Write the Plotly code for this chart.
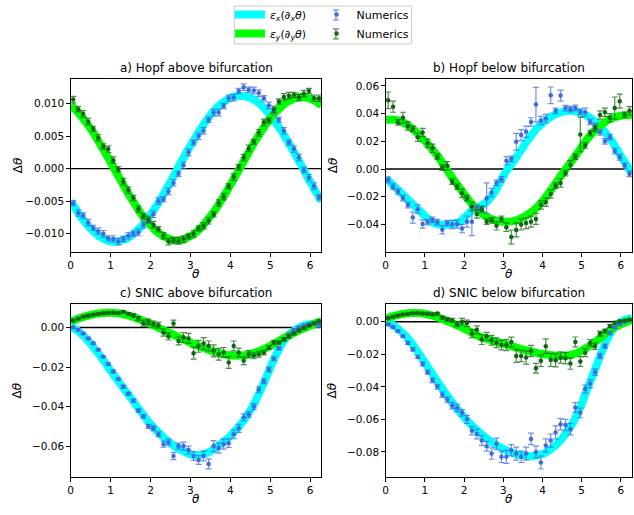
import plotly.graph_objects as go

# theta grid of the smooth theory curves (0 .. 2*pi)
theta_curve = [0.000, 0.128, 0.256, 0.385, 0.513, 0.641, 0.769, 0.898, 1.026, 1.154,
               1.282, 1.411, 1.539, 1.667, 1.795, 1.924, 2.052, 2.180, 2.308, 2.436,
               2.565, 2.693, 2.821, 2.949, 3.078, 3.206, 3.334, 3.462, 3.591, 3.719,
               3.847, 3.975, 4.103, 4.232, 4.360, 4.488, 4.616, 4.745, 4.873, 5.001,
               5.129, 5.258, 5.386, 5.514, 5.642, 5.771, 5.899, 6.027, 6.155, 6.283]
# theta grid of the numerical points (bin centres)
theta_num = [0.063, 0.188, 0.314, 0.440, 0.565, 0.691, 0.817, 0.942, 1.068, 1.194,
             1.319, 1.445, 1.571, 1.696, 1.822, 1.948, 2.073, 2.199, 2.325, 2.450,
             2.576, 2.702, 2.827, 2.953, 3.079, 3.204, 3.330, 3.456, 3.581, 3.707,
             3.833, 3.958, 4.084, 4.210, 4.335, 4.461, 4.587, 4.712, 4.838, 4.964,
             5.089, 5.215, 5.341, 5.466, 5.592, 5.718, 5.843, 5.969, 6.095, 6.220]

# ---- a) Hopf above bifurcation
a_theory_x = [-0.0050,-0.0062,-0.0074,-0.0084,-0.0093,-0.0100,-0.0106,-0.0110,-0.0112,-0.0112,-0.0110,-0.0107,-0.0102,-0.0095,-0.0087,-0.0077,-0.0066,-0.0054,-0.0041,-0.0027,-0.0013,0.0002,0.0016,0.0030,0.0043,0.0056,0.0068,0.0079,0.0089,0.0097,0.0103,0.0108,0.0111,0.0112,0.0111,0.0109,0.0105,0.0099,0.0091,0.0082,0.0071,0.0060,0.0047,0.0034,0.0020,0.0006,-0.0009,-0.0023,-0.0037,-0.0050]
a_theory_y = [0.0097,0.0090,0.0081,0.0071,0.0060,0.0048,0.0034,0.0021,0.0007,-0.0007,-0.0021,-0.0035,-0.0048,-0.0060,-0.0072,-0.0082,-0.0090,-0.0098,-0.0103,-0.0107,-0.0110,-0.0110,-0.0109,-0.0105,-0.0101,-0.0094,-0.0086,-0.0076,-0.0066,-0.0054,-0.0041,-0.0028,-0.0014,0.0000,0.0014,0.0028,0.0042,0.0054,0.0066,0.0077,0.0086,0.0094,0.0101,0.0105,0.0109,0.0110,0.0109,0.0107,0.0103,0.0097]
a_num_x = [-0.0053,-0.0068,-0.0072,-0.0083,-0.0091,-0.0096,-0.0100,-0.0107,-0.0108,-0.0112,-0.0108,-0.0103,-0.0100,-0.0098,-0.0086,-0.0080,-0.0070,-0.0050,-0.0047,-0.0035,-0.0022,-0.0008,0.0005,0.0025,0.0040,0.0050,0.0058,0.0075,0.0086,0.0086,0.0096,0.0108,0.0109,0.0119,0.0125,0.0121,0.0120,0.0116,0.0108,0.0097,0.0088,0.0075,0.0058,0.0040,0.0030,0.0017,-0.0002,-0.0014,-0.0027,-0.0044]
a_err_x = [0.0004,0.0005,0.0004,0.0005,0.0004,0.0005,0.0005,0.0004,0.0005,0.0005,0.0004,0.0005,0.0004,0.0005,0.0005,0.0004,0.0005,0.0005,0.0004,0.0005,0.0005,0.0004,0.0005,0.0005,0.0004,0.0005,0.0005,0.0004,0.0005,0.0005,0.0004,0.0005,0.0005,0.0004,0.0005,0.0004,0.0005,0.0005,0.0004,0.0005,0.0005,0.0004,0.0005,0.0004,0.0005,0.0005,0.0004,0.0005,0.0005,0.0004]
a_num_y = [0.0106,0.0091,0.0084,0.0072,0.0061,0.0047,0.0034,0.0030,0.0013,-0.0001,-0.0020,-0.0033,-0.0045,-0.0062,-0.0073,-0.0078,-0.0086,-0.0093,-0.0103,-0.0112,-0.0110,-0.0111,-0.0108,-0.0104,-0.0100,-0.0092,-0.0088,-0.0080,-0.0070,-0.0053,-0.0043,-0.0027,-0.0013,0.0002,0.0017,0.0031,0.0041,0.0055,0.0071,0.0074,0.0091,0.0103,0.0110,0.0112,0.0113,0.0109,0.0115,0.0119,0.0108,0.0108]
a_err_y = [0.0005,0.0004,0.0005,0.0005,0.0004,0.0005,0.0004,0.0005,0.0005,0.0004,0.0005,0.0005,0.0004,0.0005,0.0004,0.0005,0.0005,0.0004,0.0005,0.0005,0.0004,0.0005,0.0005,0.0004,0.0005,0.0004,0.0005,0.0005,0.0004,0.0005,0.0005,0.0004,0.0005,0.0004,0.0005,0.0005,0.0004,0.0005,0.0005,0.0004,0.0005,0.0004,0.0005,0.0005,0.0004,0.0005,0.0005,0.0004,0.0005,0.0005]

# ---- b) Hopf below bifurcation
b_theory_x = [-0.0067,-0.0100,-0.0135,-0.0170,-0.0205,-0.0240,-0.0275,-0.0310,-0.0345,-0.0375,-0.0395,-0.0402,-0.0402,-0.0398,-0.0392,-0.0375,-0.0340,-0.0305,-0.0285,-0.0265,-0.0240,-0.0200,-0.0145,-0.0080,-0.0015,0.0035,0.0085,0.0140,0.0195,0.0245,0.0290,0.0325,0.0355,0.0380,0.0398,0.0410,0.0418,0.0420,0.0414,0.0402,0.0385,0.0360,0.0330,0.0295,0.0250,0.0200,0.0140,0.0080,0.0025,-0.0030]
b_theory_y = [0.0350,0.0358,0.0355,0.0345,0.0325,0.0300,0.0270,0.0230,0.0195,0.0155,0.0110,0.0060,0.0005,-0.0050,-0.0100,-0.0150,-0.0200,-0.0245,-0.0285,-0.0318,-0.0342,-0.0360,-0.0372,-0.0378,-0.0380,-0.0378,-0.0370,-0.0355,-0.0335,-0.0310,-0.0278,-0.0240,-0.0195,-0.0145,-0.0092,-0.0040,0.0008,0.0058,0.0108,0.0160,0.0212,0.0255,0.0290,0.0322,0.0348,0.0366,0.0378,0.0386,0.0390,0.0392]
b_num_x = [-0.0079,-0.0127,-0.0163,-0.0210,-0.0260,-0.0350,-0.0290,-0.0397,-0.0383,-0.0367,-0.0383,-0.0438,-0.0390,-0.0400,-0.0397,-0.0430,-0.0380,-0.0380,-0.0280,-0.0290,-0.0210,-0.0170,-0.0100,-0.0075,0.0060,0.0074,0.0197,0.0245,0.0269,0.0340,0.0465,0.0350,0.0364,0.0532,0.0420,0.0530,0.0440,0.0432,0.0441,0.0412,0.0410,0.0340,0.0310,0.0265,0.0200,0.0230,0.0130,0.0085,0.0025,-0.0035]
b_err_x = [0.002,0.002,0.002,0.002,0.002,0.004,0.003,0.003,0.002,0.002,0.002,0.003,0.002,0.003,0.003,0.003,0.004,0.010,0.002,0.002,0.011,0.003,0.002,0.002,0.003,0.002,0.006,0.004,0.004,0.003,0.0125,0.003,0.003,0.006,0.002,0.004,0.002,0.002,0.002,0.002,0.003,0.002,0.002,0.002,0.002,0.002,0.002,0.002,0.002,0.002]
b_num_y = [0.0496,0.045,0.0336,0.037,0.031,0.029,0.023,0.0264,0.0186,0.015,0.0089,0.001,0.0024,-0.0091,-0.0127,-0.0175,-0.021,-0.027,-0.0325,-0.029,-0.038,-0.037,-0.041,-0.036,-0.042,-0.049,-0.044,-0.040,-0.039,-0.038,-0.036,-0.026,-0.024,-0.018,-0.012,-0.010,-0.003,0.003,0.009,0.025,0.017,0.026,0.029,0.039,0.041,0.037,0.044,0.049,0.039,0.042]
b_err_y = [0.006,0.004,0.002,0.004,0.003,0.002,0.003,0.003,0.003,0.003,0.002,0.002,0.003,0.002,0.002,0.003,0.002,0.003,0.003,0.002,0.002,0.002,0.003,0.002,0.003,0.005,0.005,0.004,0.004,0.004,0.004,0.003,0.003,0.003,0.002,0.003,0.002,0.003,0.002,0.0125,0.002,0.002,0.002,0.003,0.003,0.003,0.008,0.005,0.002,0.003]

# ---- c) SNIC above bifurcation
c_theory_x = [0.0000,-0.0010,-0.0030,-0.0055,-0.0085,-0.0118,-0.0152,-0.0188,-0.0225,-0.0260,-0.0295,-0.0330,-0.0365,-0.0400,-0.0435,-0.0470,-0.0500,-0.0527,-0.0552,-0.0575,-0.0595,-0.0612,-0.0626,-0.0637,-0.0645,-0.0646,-0.0640,-0.0630,-0.0615,-0.0595,-0.0575,-0.0553,-0.0527,-0.0497,-0.0463,-0.0423,-0.0377,-0.0323,-0.0265,-0.0203,-0.0145,-0.0094,-0.0056,-0.0028,-0.0009,0.0005,0.0014,0.0018,0.0020,0.0020]
c_theory_y = [0.0030,0.0040,0.0050,0.0058,0.0064,0.0069,0.0073,0.0075,0.0075,0.0073,0.0069,0.0063,0.0055,0.0046,0.0036,0.0025,0.0013,0.0001,-0.0011,-0.0023,-0.0036,-0.0048,-0.0060,-0.0072,-0.0083,-0.0094,-0.0104,-0.0113,-0.0122,-0.0130,-0.0136,-0.0140,-0.0142,-0.0142,-0.0140,-0.0135,-0.0127,-0.0117,-0.0106,-0.0093,-0.0078,-0.0063,-0.0048,-0.0035,-0.0022,-0.0010,0.0000,0.0012,0.0023,0.0034]
c_num_x = [0.0000,-0.0012,-0.0030,-0.0055,-0.0080,-0.0112,-0.0148,-0.0185,-0.0222,-0.0260,-0.0300,-0.0335,-0.0370,-0.0420,-0.0450,-0.0500,-0.0510,-0.0540,-0.0590,-0.0580,-0.0650,-0.0600,-0.0600,-0.0620,-0.0650,-0.0670,-0.0650,-0.0690,-0.0600,-0.0610,-0.0590,-0.0585,-0.0540,-0.0510,-0.0455,-0.0440,-0.0400,-0.0315,-0.0272,-0.0212,-0.0158,-0.0105,-0.0060,-0.0035,-0.0012,0.0000,0.0010,0.0016,0.0018,0.0015]
c_err_x = [0.0005,0.0005,0.0005,0.0005,0.0005,0.0005,0.0005,0.0006,0.0006,0.0006,0.0007,0.0007,0.0008,0.0008,0.0009,0.0010,0.0012,0.0012,0.0015,0.0015,0.0018,0.0015,0.0020,0.0020,0.0022,0.0022,0.0025,0.0025,0.0028,0.0025,0.0025,0.0022,0.0022,0.0020,0.0018,0.0015,0.0015,0.0015,0.0012,0.0012,0.0010,0.0008,0.0007,0.0006,0.0005,0.0005,0.0005,0.0005,0.0005,0.0005]
c_num_y = [0.0035,0.0045,0.0055,0.0060,0.0065,0.0068,0.0072,0.0074,0.0075,0.0073,0.0080,0.0068,0.0062,0.0045,0.0022,0.0028,0.0018,0.0012,-0.0025,-0.0045,0.0020,-0.0068,-0.0050,-0.0055,-0.0130,-0.0095,-0.0081,-0.0093,-0.0118,-0.0135,-0.0126,-0.0177,-0.0093,-0.0126,-0.0168,-0.0135,-0.0143,-0.0135,-0.0126,-0.0101,-0.0076,-0.0076,-0.0059,-0.0045,-0.0030,-0.0015,-0.0003,0.0010,0.0022,0.0032]
c_err_y = [0.0005,0.0005,0.0005,0.0005,0.0005,0.0005,0.0005,0.0005,0.0005,0.0005,0.0006,0.0007,0.0008,0.0010,0.0015,0.0015,0.0015,0.0015,0.0018,0.0018,0.0018,0.0020,0.0025,0.0025,0.0030,0.0030,0.0030,0.0025,0.0030,0.0030,0.0025,0.0030,0.0025,0.0022,0.0020,0.0018,0.0015,0.0015,0.0012,0.0010,0.0010,0.0008,0.0008,0.0007,0.0006,0.0006,0.0005,0.0005,0.0005,0.0005]

# ---- d) SNIC below bifurcation
d_theory_x = [0.0000,-0.0012,-0.0032,-0.0058,-0.0088,-0.0125,-0.0168,-0.0213,-0.0260,-0.0307,-0.0354,-0.0400,-0.0445,-0.0487,-0.0527,-0.0565,-0.0600,-0.0632,-0.0662,-0.0690,-0.0715,-0.0737,-0.0757,-0.0775,-0.0790,-0.0803,-0.0813,-0.0820,-0.0824,-0.0825,-0.0822,-0.0814,-0.0800,-0.0780,-0.0753,-0.0720,-0.0680,-0.0633,-0.0575,-0.0505,-0.0420,-0.0345,-0.0265,-0.0185,-0.0112,-0.0055,-0.0018,0.0003,0.0015,0.0022]
d_theory_y = [0.0020,0.0030,0.0038,0.0045,0.0050,0.0053,0.0054,0.0052,0.0047,0.0040,0.0031,0.0020,0.0008,-0.0005,-0.0019,-0.0034,-0.0049,-0.0064,-0.0080,-0.0095,-0.0105,-0.0114,-0.0123,-0.0132,-0.0141,-0.0150,-0.0159,-0.0168,-0.0176,-0.0184,-0.0191,-0.0197,-0.0202,-0.0206,-0.0209,-0.0210,-0.0208,-0.0203,-0.0193,-0.0178,-0.0160,-0.0140,-0.0116,-0.0092,-0.0068,-0.0046,-0.0028,-0.0013,0.0000,0.0012]
d_num_x = [-0.0016,-0.0033,-0.0057,-0.0088,-0.0130,-0.0170,-0.0216,-0.0260,-0.0310,-0.0360,-0.0400,-0.0449,-0.0480,-0.0516,-0.0530,-0.0560,-0.0600,-0.0670,-0.0690,-0.0730,-0.0765,-0.0810,-0.0750,-0.0830,-0.0830,-0.0790,-0.0810,-0.0830,-0.0810,-0.0720,-0.0800,-0.0865,-0.0760,-0.0730,-0.0680,-0.0630,-0.0635,-0.0660,-0.0527,-0.0560,-0.0414,-0.0380,-0.0310,-0.0210,-0.0150,-0.0069,-0.0034,-0.0014,0.0000,0.0010]
d_err_x = [0.0005,0.0006,0.0007,0.0008,0.0009,0.0010,0.0010,0.0012,0.0012,0.0014,0.0015,0.0016,0.0018,0.0020,0.0022,0.0020,0.0025,0.0025,0.0030,0.0030,0.0030,0.0035,0.0035,0.0035,0.0040,0.0035,0.0040,0.0035,0.0040,0.0035,0.0035,0.0040,0.0040,0.0040,0.0040,0.0035,0.0035,0.0035,0.0030,0.0030,0.0025,0.0025,0.0020,0.0015,0.0012,0.0010,0.0008,0.0006,0.0005,0.0005]
d_num_y = [0.0022,0.0030,0.0038,0.0045,0.0048,0.0052,0.0053,0.0051,0.0049,0.0045,0.0050,0.0025,0.0014,0.0008,-0.0015,0.0000,-0.0010,-0.0073,-0.0050,-0.0110,-0.0090,-0.0114,-0.0129,-0.0143,-0.0143,-0.0125,-0.0210,-0.0210,-0.0220,-0.0180,-0.0286,-0.0240,-0.0150,-0.0235,-0.0237,-0.0220,-0.0224,-0.0257,-0.0124,-0.0245,-0.0190,-0.0130,-0.0150,-0.0073,-0.0057,-0.0027,-0.0006,0.0003,0.0008,0.0012]
d_err_y = [0.0005,0.0005,0.0005,0.0005,0.0005,0.0005,0.0005,0.0005,0.0006,0.0006,0.0008,0.0008,0.0010,0.0012,0.0015,0.0020,0.0020,0.0025,0.0025,0.0030,0.0025,0.0030,0.0030,0.0030,0.0035,0.0030,0.0040,0.0035,0.0040,0.0035,0.0030,0.0035,0.0045,0.0040,0.0040,0.0035,0.0035,0.0035,0.0030,0.0030,0.0025,0.0020,0.0020,0.0015,0.0012,0.0010,0.0008,0.0006,0.0005,0.0005]

titles = ["a) Hopf above bifurcation", "b) Hopf below bifurcation",
          "c) SNIC above bifurcation", "d) SNIC below bifurcation"]
x_ticks = [0, 1, 2, 3, 4, 5, 6]

W, H = 634, 515
FONT = "DejaVu Sans"
CYAN = "#00FFFF"
LIME = "#00FF00"
BLUE = "#4169E1"
DGREEN = "#116611"
BLUE_ERR = "rgba(65,105,225,0.75)"
GREEN_ERR = "rgba(17,102,17,0.75)"

panels = [
    dict(tx=a_theory_x, ty=a_theory_y, nx=a_num_x, ex=a_err_x, ny=a_num_y, ey=a_err_y,
         xd=(68, 320), yd=(77, 251), yr=(-0.0128, 0.0138), ytv=[-0.010, -0.005, 0.0, 0.005, 0.010], fmt=".3f"),
    dict(tx=b_theory_x, ty=b_theory_y, nx=b_num_x, ex=b_err_x, ny=b_num_y, ey=b_err_y,
         xd=(384.5, 632), yd=(77, 251), yr=(-0.0599, 0.0652), ytv=[-0.04, -0.02, 0.0, 0.02, 0.04, 0.06], fmt=".2f"),
    dict(tx=c_theory_x, ty=c_theory_y, nx=c_num_x, ex=c_err_x, ny=c_num_y, ey=c_err_y,
         xd=(68, 320), yd=(303, 477), yr=(-0.0757, 0.0120), ytv=[-0.06, -0.04, -0.02, 0.0], fmt=".2f"),
    dict(tx=d_theory_x, ty=d_theory_y, nx=d_num_x, ex=d_err_x, ny=d_num_y, ey=d_err_y,
         xd=(384.5, 632), yd=(303, 477), yr=(-0.0955, 0.0110), ytv=[-0.08, -0.06, -0.04, -0.02, 0.0], fmt=".2f"),
]

fig = go.Figure()
layout = dict(width=W, height=H, autosize=False, margin=dict(l=0, r=0, t=0, b=0),
              plot_bgcolor="white", paper_bgcolor="white",
              font=dict(family=FONT, size=11, color="black"), showlegend=True)
annotations = []
shapes = []

for i, p in enumerate(panels):
    n = i + 1
    sx = "" if n == 1 else str(n)
    xa, ya = "x" + sx, "y" + sx
    first = (n == 1)
    fig.add_trace(go.Scatter(x=theta_curve, y=p["tx"], mode="lines", xaxis=xa, yaxis=ya,
                             line=dict(color=CYAN, width=8, shape="spline"),
                             name="<i>ε<sub>x</sub></i>(∂<sub><i>x</i></sub><i>θ</i>)",
                             legend="legend", showlegend=first))
    fig.add_trace(go.Scatter(x=theta_curve, y=p["ty"], mode="lines", xaxis=xa, yaxis=ya,
                             line=dict(color=LIME, width=8, shape="spline"),
                             name="<i>ε<sub>y</sub></i>(∂<sub><i>y</i></sub><i>θ</i>)",
                             legend="legend", showlegend=first))
    fig.add_trace(go.Scatter(x=theta_num, y=p["nx"], mode="markers", xaxis=xa, yaxis=ya,
                             marker=dict(color=BLUE, size=4.5),
                             error_y=dict(type="data", array=p["ex"], color=BLUE_ERR,
                                          thickness=1.2, width=3),
                             name="Numerics", legend="legend2", showlegend=first))
    fig.add_trace(go.Scatter(x=theta_num, y=p["ny"], mode="markers", xaxis=xa, yaxis=ya,
                             marker=dict(color=DGREEN, size=4.5),
                             error_y=dict(type="data", array=p["ey"], color=GREEN_ERR,
                                          thickness=1.2, width=3),
                             name="Numerics", legend="legend2", showlegend=first))

    x0, x1 = p["xd"]
    y0, y1 = p["yd"]
    common = dict(showgrid=False, zeroline=False, showline=True, mirror=True,
                  linecolor="black", linewidth=1, ticks="outside", ticklen=3.5,
                  tickcolor="black", tickwidth=1,
                  tickfont=dict(family=FONT, size=10.5, color="black"))
    layout["xaxis" + sx] = dict(domain=[x0 / W, x1 / W], range=[0, 6.2832],
                                tickvals=x_ticks, anchor=ya, **common)
    layout["yaxis" + sx] = dict(domain=[1 - y1 / H, 1 - y0 / H], range=list(p["yr"]),
                                tickvals=p["ytv"], tickformat=p["fmt"], anchor=xa, **common)

    shapes.append(dict(type="line", xref=xa + " domain", yref=ya, x0=0, x1=1, y0=0, y1=0,
                       line=dict(color="black", width=1.4), layer="below"))

    cx = (x0 + x1) / 2 / W
    annotations.append(dict(text=titles[i], x=cx, y=1 - (y0 - 11) / H, xref="paper", yref="paper",
                            showarrow=False, xanchor="center", yanchor="middle",
                            font=dict(family=FONT, size=12, color="black")))
    annotations.append(dict(text="<i>θ</i>", x=cx, y=1 - (y1 + 22) / H, xref="paper", yref="paper",
                            showarrow=False, xanchor="center", yanchor="middle",
                            font=dict(family=FONT, size=12, color="black")))
    annotations.append(dict(text="Δ<i>θ</i>", x=(x0 - 53) / W, y=1 - (y0 + y1) / 2 / H,
                            xref="paper", yref="paper", textangle=-90,
                            showarrow=False, xanchor="center", yanchor="middle",
                            font=dict(family=FONT, size=12, color="black")))

# legend frame
shapes.append(dict(type="rect", xref="paper", yref="paper",
                   x0=232.5 / W, x1=410.5 / W, y0=1 - 42 / H, y1=1 - 4 / H,
                   line=dict(color="#cccccc", width=1), fillcolor="rgba(255,255,255,0.8)", layer="below"))

# small error-bar glyphs next to the "Numerics" legend markers
for gy, gc in ((13, BLUE_ERR), (32, GREEN_ERR)):
    gx = 334.5
    shapes.append(dict(type="line", xref="paper", yref="paper", x0=gx / W, x1=gx / W,
                       y0=1 - (gy - 5) / H, y1=1 - (gy + 5) / H, line=dict(color=gc, width=1.2)))
    for cy in (gy - 5, gy + 5):
        shapes.append(dict(type="line", xref="paper", yref="paper", x0=(gx - 3) / W, x1=(gx + 3) / W,
                           y0=1 - cy / H, y1=1 - cy / H, line=dict(color=gc, width=1.2)))

layout["legend"] = dict(x=228 / W, y=1 + 2 / H, xanchor="left", yanchor="top",
                        bgcolor="rgba(0,0,0,0)", borderwidth=0,
                        font=dict(family=FONT, size=11, color="black"), traceorder="normal")
layout["legend2"] = dict(x=315 / W, y=1 + 2 / H, xanchor="left", yanchor="top",
                         bgcolor="rgba(0,0,0,0)", borderwidth=0,
                         font=dict(family=FONT, size=11, color="black"), traceorder="normal")
layout["annotations"] = annotations
layout["shapes"] = shapes
fig.update_layout(**layout)

fig.write_html("out.html")
